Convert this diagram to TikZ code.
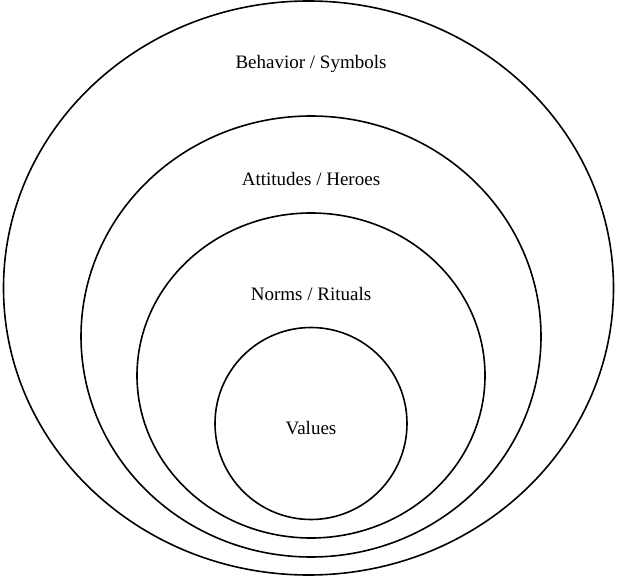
\documentclass[tikz,border=0pt]{standalone}
\usepackage{fontspec}
\setmainfont{Liberation Serif}
\usetikzlibrary{shapes.geometric}
\begin{document}
\begin{tikzpicture}[x=1pt,y=-1pt,
  layer/.style={draw, ellipse, line width=1.6pt, inner sep=0pt, outer sep=0pt},
  layertext/.style={font=\fontsize{19}{22}\selectfont, inner sep=0pt, anchor=base}]
\useasboundingbox (0,0) rectangle (618,577);
% nested layers, all resting near the common bottom
\node[layer, minimum width=610pt, minimum height=574pt] (behavior) at (308.5,288) {};
\node[layer, minimum width=460pt, minimum height=441pt] (attitudes) at (311,336.5) {};
\node[layer, minimum width=348pt, minimum height=325pt] (norms) at (311,375.5) {};
\node[layer, minimum width=192pt, minimum height=192pt] (values) at (311,423.5) {};
% layer captions
\node[layertext] (tbehavior) at (311,69) {Behavior / Symbols};
\node[layertext] (tattitudes) at (311,186) {Attitudes / Heroes};
\node[layertext] (tnorms) at (311,300) {Norms / Rituals};
\node[layertext] (tvalues) at (311,434) {Values};
\end{tikzpicture}
\end{document}
